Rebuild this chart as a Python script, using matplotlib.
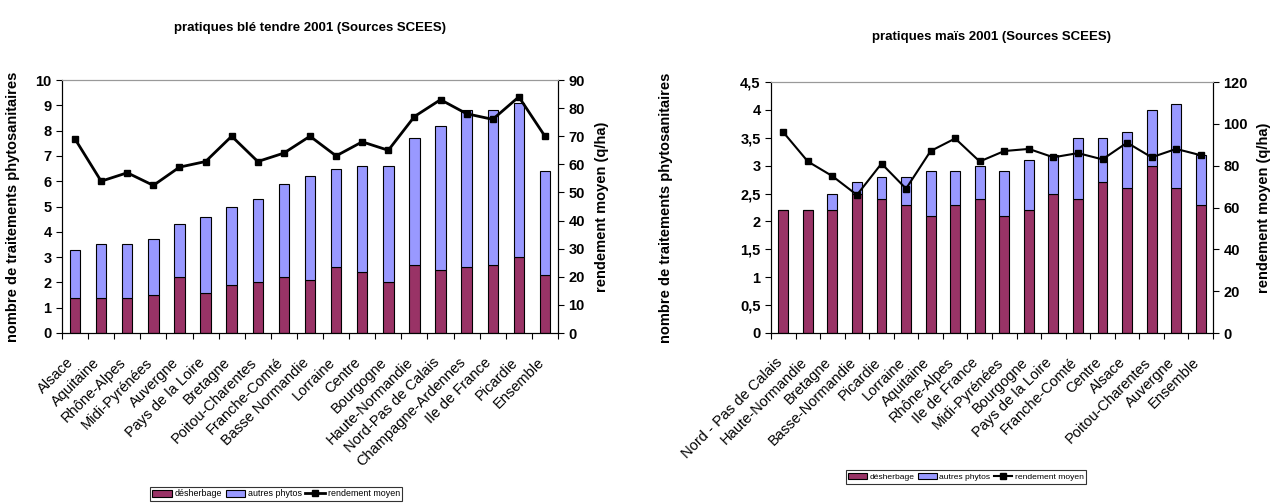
import matplotlib.pyplot as plt
import numpy as np

plt.rcParams['font.family'] = ['Liberation Sans', 'DejaVu Sans']

# blé tendre
ble_regions = ["Alsace", "Aquitaine", "Rhône-Alpes", "Midi-Pyrénées", "Auvergne",
               "Pays de la Loire", "Bretagne", "Poitou-Charentes", "Franche-Comté",
               "Basse Normandie", "Lorraine", "Centre", "Bourgogne", "Haute-Normandie",
               "Nord-Pas de Calais", "Champagne-Ardennes", "Ile de France", "Picardie",
               "Ensemble"]
ble_desherbage = [1.4, 1.4, 1.4, 1.5, 2.2, 1.6, 1.9, 2.0, 2.2, 2.1, 2.6, 2.4, 2.0,
                  2.7, 2.5, 2.6, 2.7, 3.0, 2.3]
ble_autres = [1.9, 2.1, 2.1, 2.2, 2.1, 3.0, 3.1, 3.3, 3.7, 4.1, 3.9, 4.2, 4.6,
              5.0, 5.7, 6.2, 6.1, 6.1, 4.1]
ble_rendement = [69, 54, 57, 52.5, 59, 61, 70, 61, 64, 70, 63, 68, 65,
                 77, 83, 78, 76, 84, 70]

# maïs
mais_regions = ["Nord - Pas de Calais", "Haute-Normandie", "Bretagne", "Basse-Normandie",
                "Picardie", "Lorraine", "Aquitaine", "Rhône-Alpes", "Ile de France",
                "Midi-Pyrénées", "Bourgogne", "Pays de la Loire", "Franche-Comté",
                "Centre", "Alsace", "Poitou-Charentes", "Auvergne", "Ensemble"]
mais_desherbage = [2.2, 2.2, 2.2, 2.5, 2.4, 2.3, 2.1, 2.3, 2.4, 2.1, 2.2, 2.5, 2.4,
                   2.7, 2.6, 3.0, 2.6, 2.3]
mais_autres = [0.0, 0.0, 0.3, 0.2, 0.4, 0.5, 0.8, 0.6, 0.6, 0.8, 0.9, 0.7, 1.1,
               0.8, 1.0, 1.0, 1.5, 0.9]
mais_rendement = [96, 82, 75, 66, 81, 69, 87, 93, 82, 87, 88, 84, 86, 83, 91, 84, 88, 85]

COL_DESH = "#993366"
COL_AUTRES = "#9999FF"

fig = plt.figure(figsize=(12.7, 5.04), dpi=100)


def draw_panel(rect, regions, desh, autres, rend, ymax, ystep, y2max, y2step,
               title, title_y, fmt_comma, lw, legend_rect, lab_x, lab2_x, leg_fs):
    ax = fig.add_axes(rect)
    x = np.arange(len(regions))
    ax.bar(x, desh, width=0.4, color=COL_DESH, edgecolor="black", linewidth=0.8,
           label="désherbage")
    ax.bar(x, autres, bottom=desh, width=0.4, color=COL_AUTRES, edgecolor="black",
           linewidth=0.8, label="autres phytos")
    ax.set_xlim(-0.5, len(regions) - 0.5)
    ax.set_ylim(0, ymax)
    yt = np.arange(0, ymax + 1e-9, ystep)
    ax.set_yticks(yt)
    if fmt_comma:
        ax.set_yticklabels([("%g" % v).replace(".", ",") for v in yt])

    # category names, slanted, hung just left of each bar
    ax.set_xticks(np.arange(-0.5, len(regions)))
    ax.set_xticklabels([])
    ax.tick_params(axis="x", length=4, direction="out")
    for i, name in enumerate(regions):
        ax.annotate(name, xy=(i, 0), xycoords=("data", "axes fraction"),
                    xytext=(-6, -16), textcoords="offset points", rotation=45,
                    ha="right", va="top", rotation_mode="anchor", fontsize=10.5)

    ax.tick_params(axis="y", length=4, direction="out", labelsize=10.5)
    for lab in ax.get_yticklabels():
        lab.set_fontweight("bold")
    ax.spines["top"].set_color("#999999")
    ax.set_ylabel("nombre de traitements phytosanitaires", fontsize=10.5,
                  fontweight="bold")
    ax.yaxis.set_label_coords(lab_x, 0.5)

    ax2 = ax.twinx()
    ax2.plot(x, rend, color="black", linewidth=lw, marker="s", markersize=5,
             label="rendement moyen")
    ax2.set_ylim(0, y2max)
    ax2.set_yticks(np.arange(0, y2max + 1e-9, y2step))
    ax2.tick_params(axis="y", length=4, direction="out", labelsize=10.5)
    for lab in ax2.get_yticklabels():
        lab.set_fontweight("bold")
    ax2.spines["top"].set_color("#999999")
    ax2.set_ylabel("rendement moyen (q/ha)", fontsize=10.5, fontweight="bold")
    ax2.yaxis.set_label_coords(lab2_x, 0.5)

    fig.text(rect[0] + rect[2] / 2, title_y, title, ha="center", va="center",
             fontsize=9.5, fontweight="bold")

    handles = ax.get_legend_handles_labels()[0] + ax2.get_legend_handles_labels()[0]
    leg = fig.legend(handles, ["désherbage", "autres phytos", "rendement moyen"],
                     loc="center", bbox_to_anchor=legend_rect, ncol=3, fontsize=leg_fs,
                     frameon=True, fancybox=False, edgecolor="black",
                     handlelength=2.2, handletextpad=0.3, columnspacing=0.4,
                     borderpad=0.3)
    leg.get_frame().set_linewidth(0.8)
    return ax, ax2


draw_panel([62 / 1270, 1 - 333 / 504, 496 / 1270, 253 / 504],
           ble_regions, ble_desherbage, ble_autres, ble_rendement,
           10, 1, 90, 10, "pratiques blé tendre 2001 (Sources SCEES)", 1 - 28 / 504,
           False, 2.0, (276 / 1270, 1 - 494 / 504), -0.085, 1.075, 6.4)

draw_panel([771 / 1270, 1 - 333 / 504, 442 / 1270, 251 / 504],
           mais_regions, mais_desherbage, mais_autres, mais_rendement,
           4.5, 0.5, 120, 20, "pratiques maïs 2001 (Sources SCEES)", 1 - 37 / 504,
           True, 1.5, (966 / 1270, 1 - 477 / 504), -0.222, 1.1, 6.1)

fig.savefig("out.png", dpi=100)
